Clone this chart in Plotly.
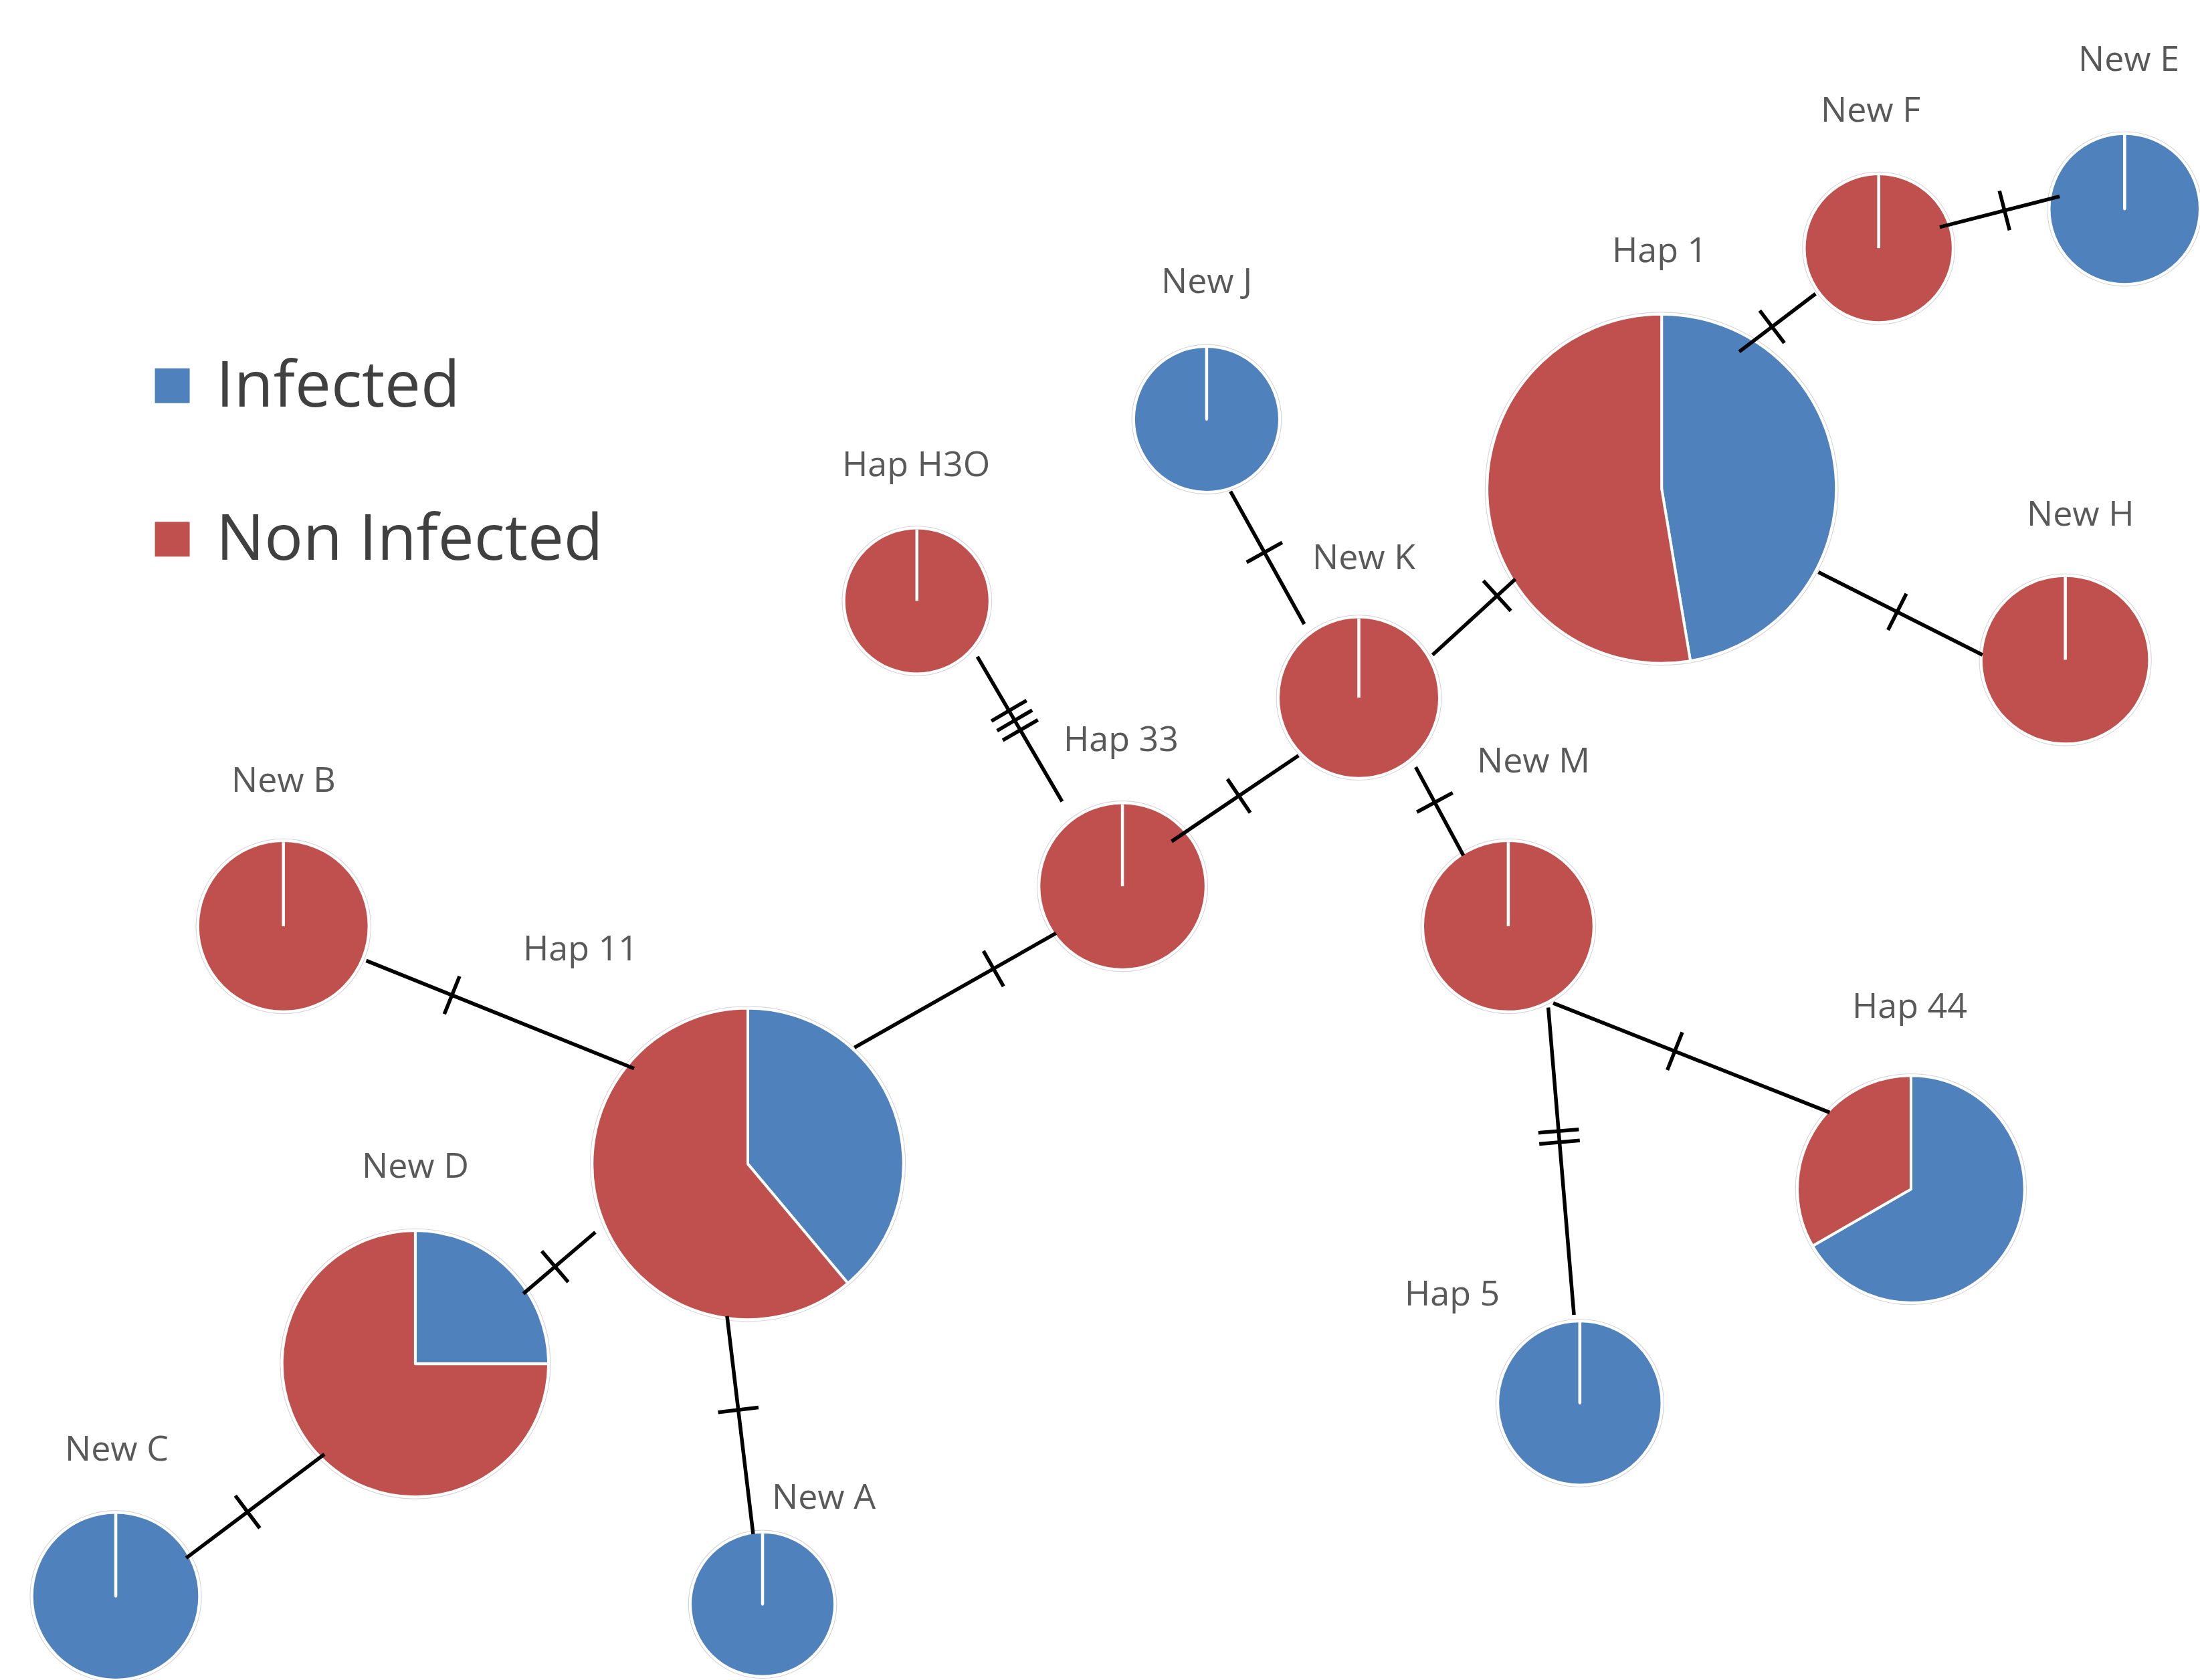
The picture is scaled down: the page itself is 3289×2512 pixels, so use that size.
import numpy as np
import plotly.graph_objects as go

W, H = 3289, 2512
XR, YR = 1568.0, 1198.0   # chart units (x to the right, y downward)

# ---------------- data ----------------
categories = ["Infected", "Non Infected"]
colors = ["#4F81BD", "#C0504D"]

node_names = ["New E", "New F", "Hap 1", "New J", "Hap H3O", "New K", "New H", "Hap 33",
              "New M", "New B", "Hap 11", "Hap 44", "New D", "Hap 5", "New C", "New A"]
node_x = [1518, 1339, 1184.3, 860, 653.5, 968.5, 1472, 800, 1075, 202, 533, 1362, 296, 1126, 82.5, 543.5]
node_y = [149, 177, 348.5, 299, 428.5, 497.5, 470.5, 632, 660.5, 660.5, 830, 848, 972.5, 1000.5, 1140.5, 1144]
node_r = [57.5, 53, 124.5, 52, 52, 57.5, 60, 59.5, 61, 61, 111, 81, 95, 58.5, 62, 51.5]
infected = [1, 0, 9, 1, 0, 0, 0, 0, 0, 0, 7, 2, 1, 1, 1, 1]
non_infected = [0, 1, 10, 0, 1, 1, 1, 1, 1, 1, 11, 1, 3, 0, 0, 0]

label_x = [1517, 1333, 1183, 860, 653, 972, 1483, 799, 1093, 202, 414, 1361, 296, 1035, 83, 587]
label_y = [41, 77, 177, 199, 330, 396, 365, 526, 541, 555, 675, 716, 830, 921, 1032, 1066]

# edges: segment ends, number of mutations (hatch marks), hatch position along segment
edge_x0 = [1382.5, 1239.6, 1296, 1021, 877, 696.6, 835, 1009, 609, 261, 1107, 1103.5, 424.3, 231.2, 518.2]
edge_y0 = [162, 250.8, 408, 467, 350.4, 468.3, 600, 547, 747, 685, 715.3, 718.5, 878.7, 1037, 938.5]
edge_x1 = [1468, 1294, 1413, 1080, 929.6, 757, 925.5, 1043, 752.6, 452, 1304, 1121.8, 373, 132.7, 536.8]
edge_y1 = [140, 209.5, 467, 413, 445, 571.5, 538.8, 610, 665.5, 762, 793.3, 937.6, 922.5, 1111, 1094]
edge_mut = [1, 1, 1, 1, 1, 3, 1, 1, 1, 1, 1, 2, 1, 1, 1]
edge_t = [0.54, 0.43, 0.48, 0.78, 0.46, 0.44, 0.53, 0.40, 0.69, 0.32, 0.44, 0.42, 0.56, 0.556, 0.43]

legend_x = [122.8, 122.8]
legend_y = [275, 384.5]

# ---------------- figure ----------------
fig = go.Figure()

def clamp(v):
    return min(1.0, max(0.0, v))

shapes = []
for i, name in enumerate(node_names):
    cx, cy, r = node_x[i], node_y[i], node_r[i]
    dx = [clamp((cx - r) / XR), clamp((cx + r) / XR)]
    dy = [clamp(1 - (cy + r) / YR), clamp(1 - (cy - r) / YR)]
    fig.add_trace(go.Pie(
        labels=categories, values=[infected[i], non_infected[i]],
        marker=dict(colors=colors, line=dict(color="white", width=4)),
        domain=dict(x=dx, y=dy), sort=False, direction="clockwise", rotation=0,
        textinfo="none", hoverinfo="label+value", showlegend=False, name=name))
    # effective centre / radius after domain clamping
    ecx = (dx[0] + dx[1]) / 2 * XR
    ecy = (1 - (dy[0] + dy[1]) / 2) * YR
    er = min((dx[1] - dx[0]) * XR, (dy[1] - dy[0]) * YR) / 2
    rr = er + 1.3
    shapes.append(dict(type="circle", xref="x", yref="y", layer="below",
                       x0=ecx - rr, x1=ecx + rr, y0=ecy - rr, y1=ecy + rr,
                       line=dict(color="#d6d6d6", width=1.2)))
    # white radius line for single-category pies
    if infected[i] == 0 or non_infected[i] == 0:
        shapes.append(dict(type="line", xref="x", yref="y", layer="above",
                           x0=ecx, y0=ecy, x1=ecx, y1=ecy - er + 1,
                           line=dict(color="white", width=4.5)))

HALF = 14.5
SPACING = 8.0
LW = 5.5
for i in range(len(edge_x0)):
    x0, y0, x1, y1 = edge_x0[i], edge_y0[i], edge_x1[i], edge_y1[i]
    shapes.append(dict(type="line", xref="x", yref="y", layer="above",
                       x0=x0, y0=y0, x1=x1, y1=y1, line=dict(color="black", width=LW)))
    L = np.hypot(x1 - x0, y1 - y0)
    ux, uy = (x1 - x0) / L, (y1 - y0) / L
    nx, ny = -uy, ux
    m = edge_mut[i]
    for k in range(m):
        off = (k - (m - 1) / 2.0) * SPACING
        hx = x0 + edge_t[i] * (x1 - x0) + off * ux
        hy = y0 + edge_t[i] * (y1 - y0) + off * uy
        shapes.append(dict(type="line", xref="x", yref="y", layer="above",
                           x0=hx - HALF * nx, y0=hy - HALF * ny,
                           x1=hx + HALF * nx, y1=hy + HALF * ny,
                           line=dict(color="black", width=LW)))

# legend swatches
fig.add_trace(go.Scatter(x=legend_x, y=legend_y, mode="markers",
                         marker=dict(symbol="square", size=52, color=colors, line=dict(width=0)),
                         hoverinfo="skip", showlegend=False))

annotations = []
for i, name in enumerate(node_names):
    annotations.append(dict(x=label_x[i], y=label_y[i], xref="x", yref="y", text=name,
                            showarrow=False, xanchor="center", yanchor="middle",
                            font=dict(family="Open Sans", size=52, color="#595959")))
for j, cat in enumerate(categories):
    annotations.append(dict(x=legend_x[j] + 30, y=legend_y[j] - 3, xref="x", yref="y", text=cat,
                            showarrow=False, xanchor="left", yanchor="middle",
                            font=dict(family="Open Sans", size=96, color="#404040")))

fig.update_layout(
    width=W, height=H, margin=dict(l=0, r=0, t=0, b=0),
    paper_bgcolor="white", plot_bgcolor="white",
    xaxis=dict(range=[0, XR], visible=False, fixedrange=True),
    yaxis=dict(range=[YR, 0], visible=False, fixedrange=True),
    shapes=shapes, annotations=annotations, showlegend=False,
)

fig.write_html("out.html", config={"displayModeBar": False},
               post_script="document.body.style.margin='0px';document.body.style.overflow='hidden';")
